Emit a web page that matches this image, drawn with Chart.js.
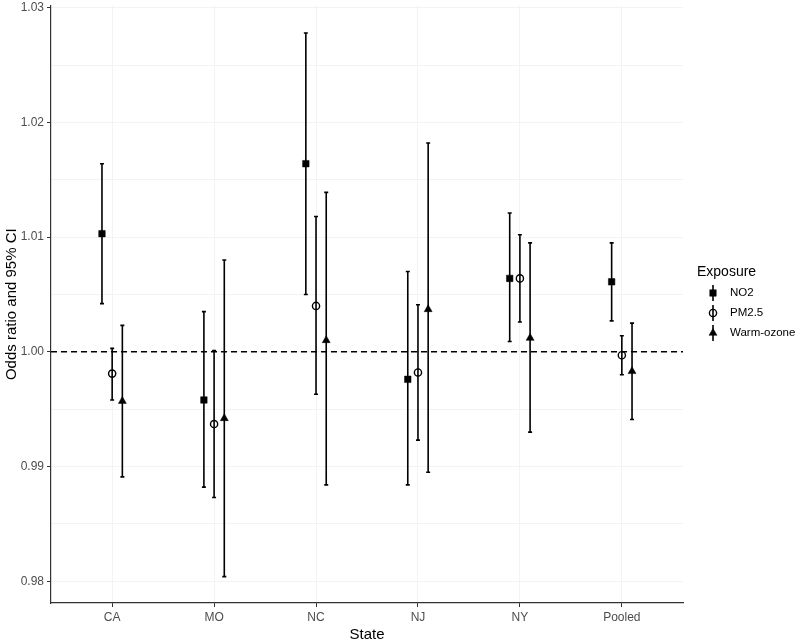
<!DOCTYPE html>
<html><head><meta charset="utf-8">
<script src="https://cdn.jsdelivr.net/npm/chart.js@4"></script>
<style>html,body{margin:0;padding:0;background:#fff}</style>
</head><body>
<canvas id="c" width="800" height="643"></canvas>
<script>
const categories = ['CA','MO','NC','NJ','NY','Pooled'];
const exposures = ['NO2','PM2.5','Warm-ozone'];

const no2   = [1.0103, 0.9958, 1.0164, 0.9976, 1.0064, 1.0061];
const no2Lo = [1.0042, 0.9882, 1.0050, 0.9884, 1.0009, 1.0027];
const no2Hi = [1.0164, 1.0035, 1.0278, 1.0070, 1.0121, 1.0095];

const pm    = [0.9981, 0.9937, 1.0040, 0.9982, 1.0064, 0.9997];
const pmLo  = [0.9958, 0.9873, 0.9963, 0.9923, 1.0026, 0.9980];
const pmHi  = [1.0003, 1.0001, 1.0118, 1.0041, 1.0102, 1.0014];

const o3    = [0.9957, 0.9942, 1.0010, 1.0037, 1.0012, 0.9983];
const o3Lo  = [0.9891, 0.9804, 0.9884, 0.9895, 0.9930, 0.9941];
const o3Hi  = [1.0023, 1.0080, 1.0139, 1.0182, 1.0095, 1.0025];

const yTicks = [0.98, 0.99, 1.00, 1.01, 1.02, 1.03];
const yMinor = [0.985, 0.995, 1.005, 1.015, 1.025];
const refValue = 1.00;

const FONT = "'Liberation Sans', Arial, Helvetica, sans-serif";
const dodge = [-0.1, 0, 0.1];
const lows = [no2Lo, pmLo, o3Lo];
const highs = [no2Hi, pmHi, o3Hi];

function pts(vals, off){ return vals.map((v,i)=>({x:i+1+off, y:v})); }

const errorBars = {
  id:'errorBars',
  beforeDatasetsDraw(chart){
    const ctx = chart.ctx, ys = chart.scales.y, area = chart.chartArea;
    ctx.save();
    ctx.strokeStyle = '#000'; ctx.lineWidth = 1.5; ctx.setLineDash([6,4]);
    const yr = ys.getPixelForValue(refValue);
    ctx.beginPath(); ctx.moveTo(area.left, yr); ctx.lineTo(area.right, yr); ctx.stroke();
    ctx.restore();
    ctx.save();
    ctx.strokeStyle = '#000'; ctx.lineWidth = 1.6;
    chart.data.datasets.forEach((ds, di)=>{
      const meta = chart.getDatasetMeta(di);
      meta.data.forEach((el, j)=>{
        const x = el.x;
        const y1 = ys.getPixelForValue(lows[di][j]);
        const y2 = ys.getPixelForValue(highs[di][j]);
        ctx.beginPath();
        ctx.moveTo(x, y1); ctx.lineTo(x, y2);
        ctx.moveTo(x-2, y1); ctx.lineTo(x+2, y1);
        ctx.moveTo(x-2, y2); ctx.lineTo(x+2, y2);
        ctx.stroke();
      });
    });
    ctx.restore();
  }
};

const legendPlugin = {
  id:'customLegend',
  afterDraw(chart){
    const ctx = chart.ctx;
    ctx.save();
    ctx.fillStyle = '#000';
    ctx.font = '14px ' + FONT;
    ctx.textBaseline = 'middle';
    ctx.textAlign = 'left';
    ctx.fillText('Exposure', 697, 272);
    const ys = [293, 313, 333];
    const kx = 713;
    exposures.forEach((name, i)=>{
      const y = ys[i];
      ctx.strokeStyle = '#000'; ctx.lineWidth = 1.6;
      ctx.beginPath(); ctx.moveTo(kx, y-8); ctx.lineTo(kx, y+8); ctx.stroke();
      const ds = chart.data.datasets[i];
      ctx.fillStyle = ds.backgroundColor; ctx.strokeStyle = ds.borderColor; ctx.lineWidth = ds.borderWidth;
      Chart.helpers.drawPoint(ctx, {pointStyle: ds.pointStyle, radius: ds.pointRadius, borderWidth: ds.borderWidth, rotation:0}, kx, y);
      ctx.fillStyle = '#000';
      ctx.font = '11.5px ' + FONT;
      ctx.fillText(name, 730, y);
    });
    ctx.restore();
  }
};

new Chart(document.getElementById('c'), {
  type:'scatter',
  data:{
    datasets:[
      {label:exposures[0], data:pts(no2, dodge[0]), pointStyle:'rect', pointRadius:4.6, backgroundColor:'#000', borderColor:'#000', borderWidth:0.5},
      {label:exposures[1], data:pts(pm, dodge[1]), pointStyle:'circle', pointRadius:3.6, backgroundColor:'rgba(0,0,0,0)', borderColor:'#000', borderWidth:1.4},
      {label:exposures[2], data:pts(o3, dodge[2]), pointStyle:'triangle', pointRadius:4.6, backgroundColor:'#000', borderColor:'#000', borderWidth:0.5}
    ]
  },
  options:{
    responsive:false, animation:false, devicePixelRatio:1,
    layout:{padding:{top:4, right:117, left:0, bottom:0}},
    plugins:{legend:{display:false}, tooltip:{enabled:false}},
    elements:{point:{hoverRadius:4}},
    scales:{
      x:{
        type:'linear', min:0.4, max:6.6,
        afterBuildTicks(s){ s.ticks = categories.map((c,i)=>({value:i+1})); },
        afterFit(s){ s.height = 40; s.paddingLeft = 0; s.paddingRight = 0; },
        ticks:{ autoSkip:false, color:'#4d4d4d', font:{family:FONT, size:12}, padding:3,
          callback:(v)=> categories[Math.round(v)-1] || '' },
        grid:{ color:'#f3f3f3', tickColor:'#333', tickLength:4, drawTicks:true },
        border:{ display:true, color:'#333', width:1.2 },
        title:{ display:true, text:'State', color:'#000', font:{family:FONT, size:15}, padding:{top:0,bottom:-1} }
      },
      y:{
        type:'linear', min:0.9781, max:1.0302,
        afterBuildTicks(s){ s.ticks = yTicks.concat(yMinor).sort((a,b)=>a-b).map(v=>({value:v})); },
        afterFit(s){ s.width = 51; s.paddingTop = 0; s.paddingBottom = 0; },
        ticks:{ autoSkip:false, color:'#4d4d4d', font:{family:FONT, size:12}, padding:3,
          callback:(v)=> yTicks.some(t=>Math.abs(t-v)<1e-9) ? v.toFixed(2) : '' },
        grid:{ color:'#f3f3f3', tickLength:4, drawTicks:true,
          tickColor:(c)=> (c.tick && yTicks.some(t=>Math.abs(t-c.tick.value)<1e-9)) ? '#333' : 'rgba(0,0,0,0)' },
        border:{ display:true, color:'#333', width:1.2 },
        title:{ display:true, text:'Odds ratio and 95% CI', color:'#000', font:{family:FONT, size:15}, padding:{top:3,bottom:0} }
      }
    }
  },
  plugins:[errorBars, legendPlugin]
});
</script>
</body></html>
